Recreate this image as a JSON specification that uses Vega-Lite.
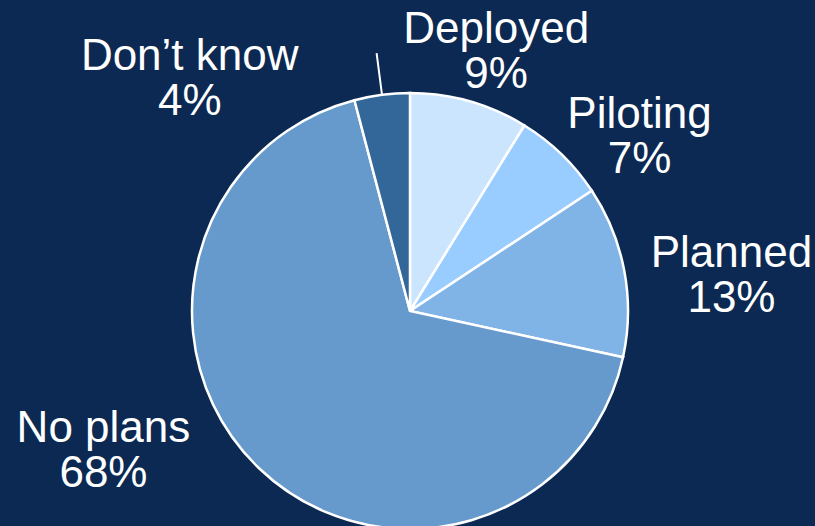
{
  "$schema": "https://vega.github.io/schema/vega-lite/v6.json",
  "autosize": "none",
  "width": 810,
  "height": 430,
  "padding": {"left": 5, "top": 96, "right": 0, "bottom": 0},
  "background": "#0b2952",
  "config": {"view": {"stroke": null}},
  "data": {
    "values": [
      {"cat": "Deployed", "value": 8.8, "rank": 1, "label": "Deployed\n9%"},
      {"cat": "Piloting", "value": 6.9, "rank": 2, "label": "Piloting\n7%"},
      {"cat": "Planned", "value": 12.7, "rank": 3, "label": "Planned\n13%"},
      {"cat": "No plans", "value": 67.5, "rank": 4, "label": "No plans\n68%"},
      {"cat": "Don’t know", "value": 4.1, "rank": 5, "label": "Don’t know\n4%"}
    ]
  },
  "encoding": {
    "theta": {"field": "value", "type": "quantitative", "stack": true},
    "order": {"field": "rank", "type": "quantitative"}
  },
  "layer": [
    {
      "mark": {"type": "arc", "radius": 218, "stroke": "white", "strokeWidth": 2.5},
      "encoding": {
        "color": {
          "field": "cat",
          "type": "nominal",
          "scale": {
            "domain": ["Deployed", "Piloting", "Planned", "No plans", "Don’t know"],
            "range": ["#cce5ff", "#99ccff", "#80b3e6", "#6699cc", "#336699"]
          },
          "legend": null
        }
      }
    },
    {
      "mark": {"type": "arc", "radius": 260, "radius2": 219, "padAngle": 3, "fillOpacity": 0, "stroke": "white", "strokeWidth": 2},
      "encoding": {
        "detail": {"field": "cat"},
        "strokeOpacity": {"condition": {"test": "datum.cat === 'Don’t know'", "value": 1}, "value": 0}
      }
    },
    {
      "mark": {"type": "text", "radius": 279, "dx": 10, "dy": 0, "align": "center", "baseline": "alphabetic", "font": "Liberation Sans", "fontSize": 44, "lineHeight": 45, "lineBreak": "\n", "color": "white"},
      "encoding": {
        "detail": {"field": "cat"},
        "text": {"field": "label"},
        "opacity": {"condition": {"test": "datum.cat === 'Deployed'", "value": 1}, "value": 0}
      }
    },
    {
      "mark": {"type": "text", "radius": 291, "dx": 27, "dy": 26, "align": "center", "baseline": "alphabetic", "font": "Liberation Sans", "fontSize": 44, "lineHeight": 45, "lineBreak": "\n", "color": "white"},
      "encoding": {
        "detail": {"field": "cat"},
        "text": {"field": "label"},
        "opacity": {"condition": {"test": "datum.cat === 'Piloting'", "value": 1}, "value": 0}
      }
    },
    {
      "mark": {"type": "text", "radius": 324, "dx": 3, "dy": 16, "align": "center", "baseline": "alphabetic", "font": "Liberation Sans", "fontSize": 44, "lineHeight": 45, "lineBreak": "\n", "color": "white"},
      "encoding": {
        "detail": {"field": "cat"},
        "text": {"field": "label"},
        "opacity": {"condition": {"test": "datum.cat === 'Planned'", "value": 1}, "value": 0}
      }
    },
    {
      "mark": {"type": "text", "radius": 306, "dx": -95, "dy": -90, "align": "center", "baseline": "alphabetic", "font": "Liberation Sans", "fontSize": 44, "lineHeight": 45, "lineBreak": "\n", "color": "white"},
      "encoding": {
        "detail": {"field": "cat"},
        "text": {"field": "label"},
        "opacity": {"condition": {"test": "datum.cat === 'No plans'", "value": 1}, "value": 0}
      }
    },
    {
      "mark": {"type": "text", "radius": 267, "dx": -186, "dy": 24, "align": "center", "baseline": "alphabetic", "font": "Liberation Sans", "fontSize": 44, "lineHeight": 45, "lineBreak": "\n", "color": "white"},
      "encoding": {
        "detail": {"field": "cat"},
        "text": {"field": "label"},
        "opacity": {"condition": {"test": "datum.cat === 'Don’t know'", "value": 1}, "value": 0}
      }
    }
  ]
}
